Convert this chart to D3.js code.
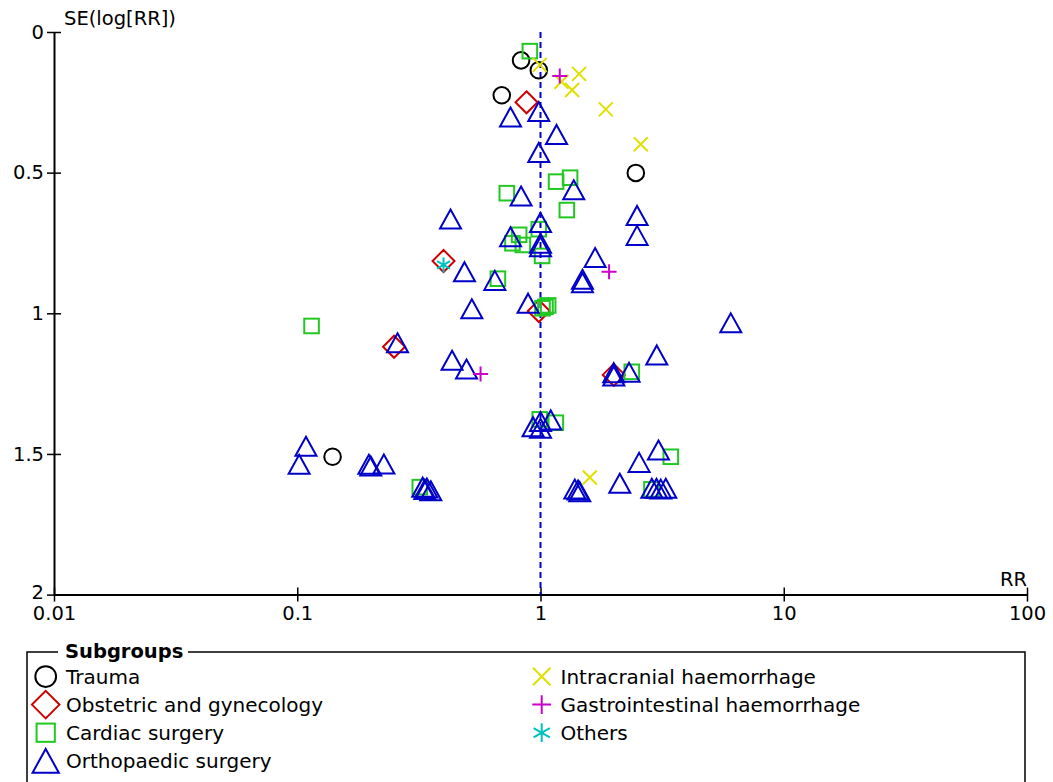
<!DOCTYPE html>
<html>
<head>
<meta charset="utf-8">
<script src="https://cdn.jsdelivr.net/npm/d3@7"></script>
<style>
  body { margin: 0; background: #fff; }
  svg { display: block; }
  text { font-family: "DejaVu Sans", sans-serif; }
</style>
</head>
<body>
<svg id="chart" width="1053" height="782"></svg>
<script>
// ---- Data (RR, SE(log[RR])) ----
const traumaRR = [0.832, 0.984, 0.693, 2.465, 0.1397];
const traumaSE = [0.101, 0.136, 0.225, 0.501, 1.510];

const obstetricRR = [0.876, 0.3994, 0.984, 0.250, 2.001];
const obstetricSE = [0.250, 0.814, 0.992, 1.119, 1.219];

const cardiacRR = [0.904, 1.159, 1.323, 0.727, 1.283, 0.984, 0.817, 0.767, 0.846, 1.015, 0.668,
                   1.048, 1.075, 1.019, 0.1145, 2.373, 0.993, 1.156, 3.433, 0.319, 2.859];
const cardiacSE = [0.068, 0.532, 0.518, 0.573, 0.633, 0.701, 0.721, 0.751, 0.757, 0.796, 0.877,
                   0.977, 0.972, 0.982, 1.045, 1.208, 1.377, 1.389, 1.510, 1.618, 1.626];

const orthoRR = [0.753, 0.984, 1.164, 0.984, 1.370, 0.832, 0.4267, 2.495, 2.495, 1.0, 0.753, 1.0, 1.0,
                 1.677, 0.487, 1.488, 1.488, 0.649, 0.522, 0.889, 6.057, 0.2584, 0.433, 0.4964, 3.006,
                 2.001, 2.001, 2.313, 0.1086, 0.1018, 0.197, 0.2006, 0.227, 0.328, 0.3345, 0.341, 0.354,
                 0.932, 1.0, 1.0, 1.102, 1.384, 1.427, 1.450, 2.118, 2.543, 3.055, 2.868, 2.998, 3.123, 3.273];
const orthoSE = [0.302, 0.283, 0.364, 0.428, 0.561, 0.583, 0.665, 0.652, 0.723, 0.677, 0.728, 0.751, 0.763,
                 0.802, 0.852, 0.879, 0.891, 0.883, 0.984, 0.964, 1.034, 1.105, 1.167, 1.198, 1.148,
                 1.211, 1.223, 1.210, 1.473, 1.537, 1.537, 1.543, 1.536, 1.618, 1.626, 1.621, 1.631,
                 1.403, 1.385, 1.409, 1.379, 1.625, 1.628, 1.634, 1.604, 1.530, 1.486, 1.622, 1.622, 1.625, 1.622];

const intracranialRR = [0.993, 1.441, 1.220, 1.349, 1.855, 2.584, 1.595];
const intracranialSE = [0.117, 0.149, 0.177, 0.206, 0.275, 0.399, 1.584];

const gastroRR = [1.200, 1.914, 0.567];
const gastroSE = [0.156, 0.852, 1.216];

const othersRR = [0.3994];
const othersSE = [0.828];

const xTicks = [0.01, 0.1, 1, 10, 100];
const xTickLabels = ["0.01", "0.1", "1", "10", "100"];
const yTicks = [0, 0.5, 1, 1.5, 2];
const yTickLabels = ["0", "0.5", "1", "1.5", "2"];
const pooledRR = 1;

const groups = [
  { name: "Trauma", shape: "circle", color: "#000000", rr: traumaRR, se: traumaSE },
  { name: "Obstetric and gynecology", shape: "diamond", color: "#cc0000", rr: obstetricRR, se: obstetricSE },
  { name: "Cardiac surgery", shape: "square", color: "#22c822", rr: cardiacRR, se: cardiacSE },
  { name: "Orthopaedic surgery", shape: "triangle", color: "#0000c8", rr: orthoRR, se: orthoSE },
  { name: "Intracranial haemorrhage", shape: "x", color: "#e0e000", rr: intracranialRR, se: intracranialSE },
  { name: "Gastrointestinal haemorrhage", shape: "plus", color: "#cc00cc", rr: gastroRR, se: gastroSE },
  { name: "Others", shape: "asterisk", color: "#00c0c0", rr: othersRR, se: othersSE }
];

// ---- Layout ----
const svg = d3.select("#chart");
const x = d3.scaleLog().domain([0.01, 100]).range([54, 1027]);
const y = d3.scaleLinear().domain([0, 2]).range([32, 594.6]);
const FS = "19.5px";
const LFS = "20px";

function drawSymbol(g, shape, color, s) {
  const sw = 2;
  if (shape === "circle") {
    g.append("circle").attr("r", 8.3 * s).attr("fill", "none").attr("stroke", color).attr("stroke-width", sw);
  } else if (shape === "diamond") {
    const h = 11 * s;
    g.append("path").attr("d", `M0,${-h}L${h},0L0,${h}L${-h},0Z`).attr("fill", "none").attr("stroke", color).attr("stroke-width", sw);
  } else if (shape === "square") {
    const a = 7.3 * s;
    g.append("rect").attr("x", -a).attr("y", -a).attr("width", 2 * a).attr("height", 2 * a)
      .attr("fill", "none").attr("stroke", color).attr("stroke-width", sw);
  } else if (shape === "triangle") {
    const w = 10.5 * s, h = 9.5 * s;
    g.append("path").attr("d", `M0,${-h}L${w},${h}L${-w},${h}Z`).attr("fill", "none").attr("stroke", color).attr("stroke-width", sw);
  } else if (shape === "x") {
    const a = 7 * s;
    g.append("path").attr("d", `M${-a},${-a}L${a},${a}M${-a},${a}L${a},${-a}`).attr("fill", "none").attr("stroke", color).attr("stroke-width", sw);
  } else if (shape === "plus") {
    const a = 7.5 * s;
    g.append("path").attr("d", `M${-a},0L${a},0M0,${-a}L0,${a}`).attr("fill", "none").attr("stroke", color).attr("stroke-width", sw);
  } else if (shape === "asterisk") {
    const a = 7.5 * s;
    const c = Math.cos(Math.PI / 6) * a, sn = Math.sin(Math.PI / 6) * a;
    g.append("path").attr("d", `M0,${-a}L0,${a}M${-c},${-sn}L${c},${sn}M${-c},${sn}L${c},${-sn}`)
      .attr("fill", "none").attr("stroke", color).attr("stroke-width", sw);
  }
}

// Axes
const xAxis = svg.append("g").attr("transform", `translate(0,${y(2)})`)
  .call(d3.axisBottom(x).tickValues(xTicks).tickFormat((d, i) => xTickLabels[i]).tickSizeInner(7).tickSizeOuter(0).tickPadding(6));
xAxis.select(".domain").attr("stroke", "#000").attr("stroke-width", 2);
xAxis.selectAll(".tick line").attr("y1", -7).attr("y2", 7).attr("stroke", "#000").attr("stroke-width", 1.5);
xAxis.selectAll(".tick text").attr("y", 12).attr("font-size", FS).attr("fill", "#000").attr("font-family", "DejaVu Sans");

const yAxis = svg.append("g").attr("transform", `translate(${x(0.01)},0)`)
  .call(d3.axisLeft(y).tickValues(yTicks).tickFormat((d, i) => yTickLabels[i]).tickSizeInner(7).tickSizeOuter(0).tickPadding(4));
yAxis.select(".domain").attr("stroke", "#000").attr("stroke-width", 2);
yAxis.selectAll(".tick line").attr("x1", -7).attr("x2", 7).attr("stroke", "#000").attr("stroke-width", 1.5);
yAxis.selectAll(".tick text").attr("x", -10).attr("font-size", FS).attr("fill", "#000").attr("font-family", "DejaVu Sans")
  .attr("dy", (d, i) => i === yTicks.length - 1 ? "0.2em" : "0.32em");

svg.append("text").attr("x", 64).attr("y", 25).attr("font-size", FS).text("SE(log[RR])");
svg.append("text").attr("x", 1027).attr("y", 586).attr("text-anchor", "end").attr("font-size", FS).text("RR");

// Pooled line
svg.append("line").attr("x1", x(pooledRR)).attr("x2", x(pooledRR)).attr("y1", y(0)).attr("y2", y(2))
  .attr("stroke", "#0000c8").attr("stroke-width", 2).attr("stroke-dasharray", "6,4");

// Points
groups.forEach(gr => {
  gr.rr.forEach((v, i) => {
    const g = svg.append("g").attr("transform", `translate(${x(v)},${y(gr.se[i])})`);
    drawSymbol(g, gr.shape, gr.color, 1);
  });
});

// Legend
const lg = svg.append("g");
lg.append("path").attr("d", "M58,652L27,652L27,790M188,652L1025,652L1025,790")
  .attr("fill", "none").attr("stroke", "#000").attr("stroke-width", 1.5);
lg.append("text").attr("x", 65).attr("y", 658).attr("font-size", FS).attr("font-weight", "bold").text("Subgroups");
groups.forEach((gr, i) => {
  const col = i < 4 ? 0 : 1;
  const row = i < 4 ? i : i - 4;
  const sx = col === 0 ? 45.7 : 541.7;
  const tx = col === 0 ? 66 : 560.5;
  const cy = 676.5 + row * 28.1;
  const g = lg.append("g").attr("transform", `translate(${sx},${cy})`);
  drawSymbol(g, gr.shape, gr.color, 1.25);
  lg.append("text").attr("x", tx).attr("y", cy + 7).attr("font-size", LFS).text(gr.name);
});
</script>
</body>
</html>
